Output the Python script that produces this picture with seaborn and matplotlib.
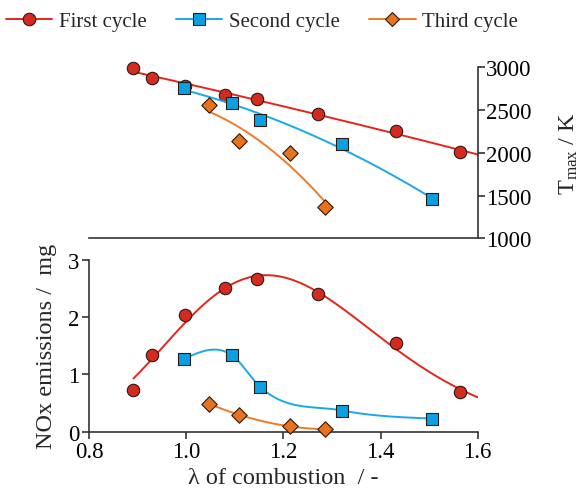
import numpy as np
import pandas as pd
import matplotlib
matplotlib.use("Agg")
import matplotlib.pyplot as plt
import seaborn as sns
from matplotlib.lines import Line2D

# ---- data ----
lam_first = [0.891, 0.930, 0.998, 1.080, 1.145, 1.271, 1.431, 1.564]
nox_first = [0.73, 1.33, 2.04, 2.51, 2.66, 2.40, 1.54, 0.70]
tmax_first = [2988, 2879, 2786, 2680, 2630, 2454, 2251, 2014]

lam_second = [0.995, 1.093, 1.152, 1.321, 1.505]
nox_second = [1.27, 1.34, 0.78, 0.37, 0.23]
tmax_second = [2754, 2583, 2388, 2099, 1456]

lam_third = [1.047, 1.108, 1.213, 1.286]
nox_third = [0.49, 0.29, 0.10, 0.04]
tmax_third = [2559, 2134, 1998, 1363]

series_names = ["First cycle", "Second cycle", "Third cycle"]
x_ticks = [0.8, 1.0, 1.2, 1.4, 1.6]
nox_ticks = [0, 1, 2, 3]
tmax_ticks = [1000, 1500, 2000, 2500, 3000]

# ---- style ----
sns.set_theme(style="white")
plt.rcParams["font.family"] = ["Liberation Serif", "DejaVu Serif"]
plt.rcParams["mathtext.fontset"] = "custom"
plt.rcParams["mathtext.rm"] = "Liberation Serif"
plt.rcParams["mathtext.it"] = "Liberation Serif:italic"

c_red_line, c_red = "#e3261d", "#d52a20"
c_blue_line, c_blue = "#1aa8e8", "#0b9fe4"
c_or_line, c_or = "#ef7b2a", "#e8731e"
edge = "#2a1a14"
spine_c = "#333333"

TICK_FS = 16.5
LABEL_FS = 17.5


def bessel_spline(x, y, xs):
    """Piecewise cubic Hermite interpolation with Bessel (3-point) tangents."""
    x = np.asarray(x, float); y = np.asarray(y, float)
    h = np.diff(x); d = np.diff(y) / h
    n = len(x); m = np.zeros(n)
    for i in range(1, n - 1):
        m[i] = (h[i] * d[i - 1] + h[i - 1] * d[i]) / (h[i - 1] + h[i])
    m[0] = (3 * d[0] - m[1]) / 2
    m[-1] = (3 * d[-1] - m[-2]) / 2
    idx = np.clip(np.searchsorted(x, xs) - 1, 0, n - 2)
    t = (xs - x[idx]) / h[idx]
    h00 = 2 * t ** 3 - 3 * t ** 2 + 1
    h10 = t ** 3 - 2 * t ** 2 + t
    h01 = -2 * t ** 3 + 3 * t ** 2
    h11 = t ** 3 - t ** 2
    return (h00 * y[idx] + h10 * h[idx] * m[idx] + h01 * y[idx + 1]
            + h11 * h[idx] * m[idx + 1])


def polycurve(x, y, deg, x0, x1):
    p = np.polyfit(x, y, deg)
    xs = np.linspace(x0, x1, 200)
    return xs, np.polyval(p, xs)


def lognormal_fit(x, y, x0, x1):
    lx = np.log(np.asarray(x, float)); y = np.asarray(y, float)
    best = None
    for mu in np.linspace(0.0, 0.35, 141):
        for s in np.linspace(0.08, 0.5, 169):
            g = np.exp(-(lx - mu) ** 2 / (2 * s ** 2))
            a = (g @ y) / (g @ g)
            err = np.sum((a * g - y) ** 2)
            if best is None or err < best[0]:
                best = (err, mu, s, a)
    _, mu, s, a = best
    xs = np.linspace(x0, x1, 200)
    return xs, a * np.exp(-(np.log(xs) - mu) ** 2 / (2 * s ** 2))


fig = plt.figure(figsize=(5.81, 5.02), dpi=100)
ax_t = fig.add_axes([0.1537, 0.5233, 0.6685, 0.3406])
ax_b = fig.add_axes([0.1537, 0.138, 0.6685, 0.3426])

ms_c, ms_s, ms_d = 80, 80, 62

# ---- top panel: Tmax ----
curves_top = [
    polycurve(lam_first, tmax_first, 2, lam_first[0], 1.6),
    polycurve(lam_second, tmax_second, 2, lam_second[0], lam_second[-1]),
    polycurve(lam_third, tmax_third, 2, lam_third[0], lam_third[-1]),
]
for (xs, ys), col, z in zip(curves_top, [c_red_line, c_blue_line, c_or_line], [2, 4, 6]):
    sns.lineplot(x=xs, y=ys, ax=ax_t, color=col, lw=1.4, zorder=z, sort=False)
for lx, ly, col, mk, s, z in [(lam_first, tmax_first, c_red, "o", ms_c, 3),
                              (lam_second, tmax_second, c_blue, "s", ms_s, 5),
                              (lam_third, tmax_third, c_or, "D", ms_d, 7)]:
    sns.scatterplot(x=lx, y=ly, ax=ax_t, color=col, marker=mk, s=s,
                    edgecolor=edge, linewidth=0.8, zorder=z, legend=False,
                    clip_on=False)

ax_t.set_xlim(0.8, 1.6)
ax_t.set_ylim(1000, 3000)
for sp in ["top", "left"]:
    ax_t.spines[sp].set_visible(False)
for sp in ["bottom", "right"]:
    ax_t.spines[sp].set_color(spine_c)
    ax_t.spines[sp].set_linewidth(1.2)
ax_t.set_xticks([])
ax_t.yaxis.tick_right()
ax_t.yaxis.set_label_position("right")
ax_t.set_yticks(tmax_ticks)
ax_t.tick_params(axis="y", direction="out", length=5, width=1.2, color=spine_c,
                 labelsize=TICK_FS, pad=1, labelcolor="black")
ax_t.set_ylabel(r"$\mathrm{T}_{\mathrm{max}}$ / K", fontsize=LABEL_FS, labelpad=19)

# ---- bottom panel: NOx ----
xs_r, ys_r = lognormal_fit(lam_first, nox_first, lam_first[0], 1.6)
xs_b = np.linspace(lam_second[0], lam_second[-1], 300)
ys_b = bessel_spline(lam_second, nox_second, xs_b)
xs_o, ys_o = polycurve(lam_third, nox_third, 2, lam_third[0], lam_third[-1])
for xs, ys, col, z in [(xs_r, ys_r, c_red_line, 2), (xs_b, ys_b, c_blue_line, 4),
                       (xs_o, ys_o, c_or_line, 6)]:
    sns.lineplot(x=xs, y=ys, ax=ax_b, color=col, lw=1.4, zorder=z, sort=False)
for lx, ly, col, mk, s, z in [(lam_first, nox_first, c_red, "o", ms_c, 3),
                              (lam_second, nox_second, c_blue, "s", ms_s, 5),
                              (lam_third, nox_third, c_or, "D", ms_d, 7)]:
    sns.scatterplot(x=lx, y=ly, ax=ax_b, color=col, marker=mk, s=s,
                    edgecolor=edge, linewidth=0.8, zorder=z, legend=False,
                    clip_on=False)

ax_b.set_xlim(0.8, 1.6)
ax_b.set_ylim(0, 3)
for sp in ["top", "right"]:
    ax_b.spines[sp].set_visible(False)
for sp in ["bottom", "left"]:
    ax_b.spines[sp].set_color(spine_c)
    ax_b.spines[sp].set_linewidth(1.2)
ax_b.set_xticks(x_ticks)
ax_b.set_xticklabels([f"{v:.1f}" for v in x_ticks])
ax_b.set_yticks(nox_ticks)
ax_b.tick_params(axis="both", direction="out", length=5, width=1.2, color=spine_c,
                 labelsize=TICK_FS, pad=2, labelcolor="black", bottom=True, left=True)
ax_b.set_xlabel("λ of combustion  / -", fontsize=LABEL_FS, labelpad=3)
ax_b.set_ylabel("NOx emissions /  mg", fontsize=LABEL_FS, labelpad=8)

# ---- legend ----
handles = [
    Line2D([], [], color=c_red_line, lw=1.4, marker="o", markersize=9,
           markerfacecolor=c_red, markeredgecolor=edge, markeredgewidth=0.8),
    Line2D([], [], color=c_blue_line, lw=1.4, marker="s", markersize=8.5,
           markerfacecolor=c_blue, markeredgecolor=edge, markeredgewidth=0.8),
    Line2D([], [], color=c_or_line, lw=1.4, marker="D", markersize=7.5,
           markerfacecolor=c_or, markeredgecolor=edge, markeredgewidth=0.8),
]
fig.legend(handles, series_names, loc="upper left", bbox_to_anchor=(-0.012, 1.0),
           ncol=3, frameon=False, fontsize=15, handlelength=2.25,
           handletextpad=0.3, columnspacing=1.4, borderaxespad=0.2)

fig.savefig("out.png", dpi=100)
